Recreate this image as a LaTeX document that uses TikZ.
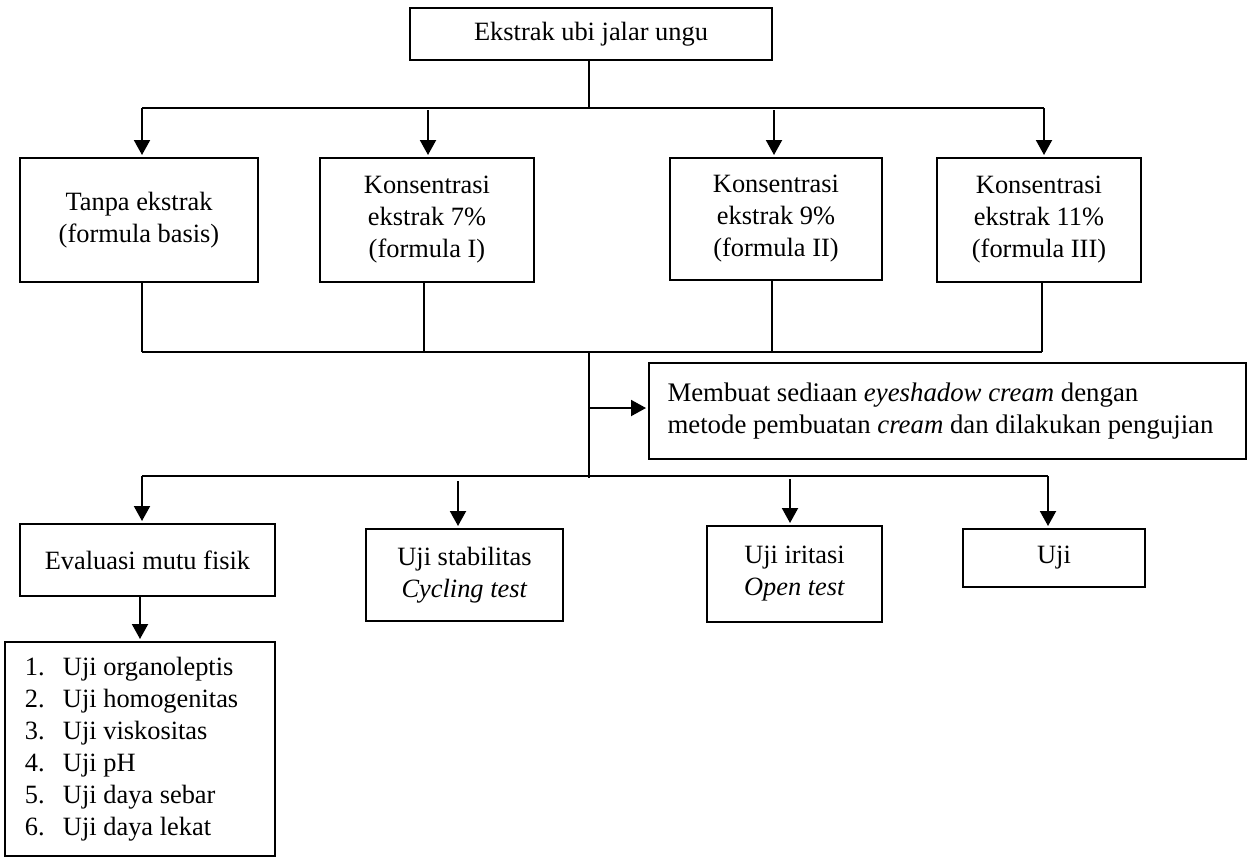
\documentclass[tikz,border=0pt]{standalone}
\usepackage{fontspec}
\setmainfont{Liberation Serif}
\usetikzlibrary{arrows.meta}
\begin{document}
\begin{tikzpicture}[x=0.5pt,y=-0.5pt,
  box/.style={draw,line width=1pt,inner sep=0pt,align=center,font=\fontsize{13.2}{16}\selectfont},
  thinline/.style={line width=0.6pt},
  arr/.style={line width=1pt,-{Triangle[width=8pt,length=7.5pt]},shorten >=1pt}]
\useasboundingbox (0,0) rectangle (1247,858);

% boxes
\node[box,minimum width=181pt,minimum height=26pt] (top) at (591,34) {Ekstrak ubi jalar ungu};
\node[box,minimum width=119pt,minimum height=62pt] (A) at (139,220) {Tanpa ekstrak\\(formula basis)};
\node[box,minimum width=107pt,minimum height=62pt] (B) at (427,220) {Konsentrasi\\ekstrak 7\%\\(formula I)};
\node[box,minimum width=106pt,minimum height=61pt] (C) at (776,219) {Konsentrasi\\ekstrak 9\%\\(formula II)};
\node[box,minimum width=102pt,minimum height=62pt] (D) at (1039,220) {Konsentrasi\\ekstrak 11\%\\(formula III)};
\node[box,minimum height=48pt,text width=280pt,inner xsep=9.25pt,align=flush left,font=\fontsize{13.4}{16}\selectfont] (M) at (947.5,411)
  {Membuat sediaan \textit{eyeshadow cream} dengan\\metode pembuatan \textit{cream} dan dilakukan pengujian};
\node[box,minimum width=127.5pt,minimum height=36pt] (E) at (147.5,560) {Evaluasi mutu fisik};
\node[box,minimum width=98.5pt,minimum height=46pt] (S) at (464.5,575) {Uji stabilitas\\\textit{Cycling test}};
\node[box,minimum width=87.5pt,minimum height=48pt] (I) at (794.5,574) {Uji iritasi\\\textit{Open test}};
\node[box,minimum width=91pt,minimum height=29pt] (U) at (1054,558) {Uji};
\node[box,minimum height=107pt,text width=115pt,inner xsep=10pt,align=flush left] (L) at (140,749)
  {\makebox[19pt][l]{1.}Uji organoleptis\\
   \makebox[19pt][l]{2.}Uji homogenitas\\
   \makebox[19pt][l]{3.}Uji viskositas\\
   \makebox[19pt][l]{4.}Uji pH\\
   \makebox[19pt][l]{5.}Uji daya sebar\\
   \makebox[19pt][l]{6.}Uji daya lekat};

% junction coordinates
\coordinate (b1) at (589,108);
\coordinate (b2) at (589,352);
\coordinate (b3) at (589,478);
\coordinate (k) at (589,408);
\coordinate (tA) at (142,108);
\coordinate (tB) at (428,110);
\coordinate (tC) at (774,110);
\coordinate (tD) at (1044,108);
\coordinate (mA) at (142,352);
\coordinate (mB) at (424,352);
\coordinate (mC) at (772,352);
\coordinate (mD) at (1042,352);
\coordinate (eA) at (142,476);
\coordinate (eB) at (458,481);
\coordinate (eC) at (790,479);
\coordinate (eD) at (1048,476);

% top distribution
\draw[thinline] (top.south -| b1) -- (b1);
\draw[thinline] (tA) -- (tD);
\draw[arr] (tA) -- (tA |- A.north);
\draw[arr] (tB) -- (tB |- B.north);
\draw[arr] (tC) -- (tC |- C.north);
\draw[arr] (tD) -- (tD |- D.north);

% collecting lines
\draw[thinline] (mA |- A.south) -- (mA);
\draw[thinline] (mB |- B.south) -- (mB);
\draw[thinline] (mC |- C.south) -- (mC);
\draw[thinline] (mD |- D.south) -- (mD);
\draw[thinline] (mA) -- (mD);
\draw[line width=0.8pt] (b2) -- (b3);
\draw[arr] (k) -- (k -| M.west);

% bottom distribution
\draw[thinline] (eA) -- (0,476 -| eD);
\draw[arr] (eA) -- (eA |- E.north);
\draw[arr] (eB) -- (eB |- S.north);
\draw[arr] (eC) -- (eC |- I.north);
\draw[arr] (eD) -- (eD |- U.north);
\draw[arr] (L.north |- E.south) -- (L.north);
\end{tikzpicture}
\end{document}
